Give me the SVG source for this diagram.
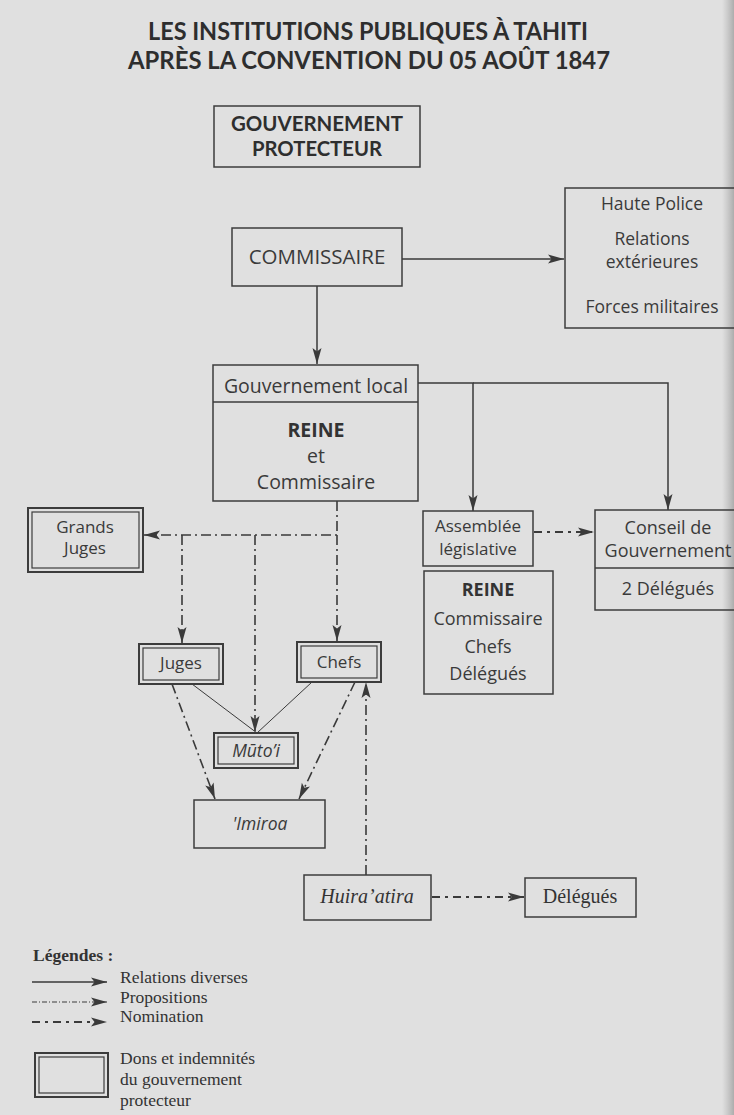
<svg xmlns="http://www.w3.org/2000/svg" width="734" height="1115" viewBox="0 0 734 1115">
<defs>
<marker id="ah" viewBox="0 0 16 10" refX="16" refY="5" markerWidth="16" markerHeight="10" markerUnits="userSpaceOnUse" orient="auto">
<path d="M0,0.5 L16,5 L0,9.5 L3.5,5 z" fill="#3a3a3a"/>
</marker>
<linearGradient id="edge" x1="0" y1="0" x2="1" y2="0">
<stop offset="0" stop-color="#9a9a9a" stop-opacity="0"/>
<stop offset="1" stop-color="#8a8a8a" stop-opacity="0.6"/>
</linearGradient>
</defs>
<style>
.bg{fill:#e0e0e0}
.box{fill:none;stroke:#3c3c3c;stroke-width:1.5}
.dbo{fill:none;stroke:#3c3c3c;stroke-width:2}
.dbi{fill:none;stroke:#3c3c3c;stroke-width:1.2}
.t{font-family:"Open Sans","Liberation Sans",sans-serif;fill:#3a3a3a;text-anchor:middle}
.h{font-family:Lato,"Open Sans",sans-serif;fill:#2e2e2e;text-anchor:middle;font-weight:bold}
.ti{font-family:"Open Sans","Liberation Sans",sans-serif;font-style:italic;fill:#3a3a3a;text-anchor:middle}
.s{font-family:"Liberation Serif",serif;fill:#333}
.b{font-weight:bold}
.solid{fill:none;stroke:#3a3a3a;stroke-width:1.5}
.thin{fill:none;stroke:#3a3a3a;stroke-width:1}
.dd{fill:none;stroke:#3a3a3a;stroke-width:1.6;stroke-dasharray:10 4 2 4}
.nom{fill:none;stroke:#3a3a3a;stroke-width:2;stroke-dasharray:8 5 3 5}
.prop{fill:none;stroke:#3a3a3a;stroke-width:1;stroke-dasharray:5 2 1 2}
</style>
<rect class="bg" x="0" y="0" width="734" height="1115"/>
<rect x="722" y="0" width="12" height="1115" fill="url(#edge)"/>

<g id="title">
<text class="h" font-size="24"><tspan x="368" y="40" textLength="440" lengthAdjust="spacingAndGlyphs">LES INSTITUTIONS PUBLIQUES À TAHITI</tspan><tspan x="369" y="69" textLength="482" lengthAdjust="spacingAndGlyphs">APRÈS LA CONVENTION DU 05 AOÛT 1847</tspan></text>
</g>

<g id="connectors">
<path class="solid" d="M402,259 H564" marker-end="url(#ah)"/>
<path class="solid" d="M317,286 V364" marker-end="url(#ah)"/>
<path class="solid" d="M418,383 H473 V511" marker-end="url(#ah)"/>
<path class="solid" d="M473,383 H668 V510" marker-end="url(#ah)"/>
<path class="dd" d="M337,501 V535 H144" marker-end="url(#ah)"/>
<path class="dd" d="M182,535 V643" marker-end="url(#ah)"/>
<path class="dd" d="M255,535 V732" marker-end="url(#ah)"/>
<path class="dd" d="M337,535 V641" marker-end="url(#ah)"/>
<path class="thin" d="M192,684 L257,733 L312,682"/>
<path class="dd" d="M172,684 L215,799" marker-end="url(#ah)"/>
<path class="dd" d="M355,682 L299,799" marker-end="url(#ah)"/>
<path class="dd" d="M366,875 V682" marker-end="url(#ah)"/>
<path class="nom" d="M534,532 H594" marker-end="url(#ah)"/>
<path class="nom" d="M432,897 H524" marker-end="url(#ah)"/>
</g>

<g id="gouv-protecteur">
<rect class="box" x="214" y="106" width="206" height="61"/>
<text class="h" font-size="20.5"><tspan x="317" y="131" textLength="172" lengthAdjust="spacingAndGlyphs">GOUVERNEMENT</tspan><tspan x="317" y="156" textLength="130" lengthAdjust="spacingAndGlyphs">PROTECTEUR</tspan></text>
</g>

<g id="commissaire">
<rect class="box" x="232" y="228" width="170" height="58"/>
<text class="t" x="317" y="264" font-size="20.5">COMMISSAIRE</text>
</g>

<g id="haute-police">
<rect class="box" x="565" y="188" width="180" height="140"/>
<text class="t" font-size="17.5"><tspan x="652" y="210">Haute Police</tspan><tspan x="652" y="245">Relations</tspan><tspan x="652" y="268">extérieures</tspan><tspan x="652" y="313">Forces militaires</tspan></text>
</g>

<g id="gouv-local">
<rect class="box" x="213" y="365" width="205" height="136"/>
<line class="box" x1="213" y1="402" x2="418" y2="402"/>
<text class="t" x="316" y="393" font-size="19.5">Gouvernement local</text>
<text class="t" font-size="19.5"><tspan x="316" y="437" font-weight="bold" fill="#333">REINE</tspan><tspan x="316" y="463">et</tspan><tspan x="316" y="489">Commissaire</tspan></text>
</g>

<g id="grands-juges">
<rect class="dbo" x="28" y="508" width="115" height="64"/>
<rect class="dbi" x="32" y="512" width="107" height="56"/>
<text class="t" font-size="17"><tspan x="85" y="533">Grands</tspan><tspan x="85" y="554">Juges</tspan></text>
</g>

<g id="assemblee">
<rect class="box" x="423" y="511" width="110" height="55"/>
<text class="t" font-size="17"><tspan x="478" y="532">Assemblée</tspan><tspan x="478" y="555">législative</tspan></text>
</g>

<g id="reine">
<rect class="box" x="424" y="571" width="129" height="123"/>
<text class="t" font-size="18"><tspan x="488" y="596" font-weight="bold" fill="#333">REINE</tspan><tspan x="488" y="625">Commissaire</tspan><tspan x="488" y="653">Chefs</tspan><tspan x="488" y="680">Délégués</tspan></text>
</g>

<g id="conseil">
<rect class="box" x="595" y="510" width="150" height="100"/>
<line class="box" x1="595" y1="568" x2="745" y2="568"/>
<text class="t" font-size="18"><tspan x="668" y="534">Conseil de</tspan><tspan x="668" y="557">Gouvernement</tspan></text>
<text class="t" x="668" y="595" font-size="18">2 Délégués</text>
</g>

<g id="juges">
<rect class="dbo" x="139" y="644" width="84" height="40"/>
<rect class="dbi" x="143" y="648" width="76" height="32"/>
<text class="t" x="181" y="669" font-size="17">Juges</text>
</g>

<g id="chefs">
<rect class="dbo" x="297" y="642" width="84" height="40"/>
<rect class="dbi" x="301" y="646" width="76" height="32"/>
<text class="t" x="339" y="668" font-size="17">Chefs</text>
</g>

<g id="mutoi">
<rect class="dbo" x="214" y="733" width="84" height="35"/>
<rect class="dbi" x="218" y="737" width="76" height="27"/>
<text class="ti" x="256" y="757" font-size="17.5">Mūto’i</text>
</g>

<g id="imiroa">
<rect class="box" x="194" y="800" width="131" height="48"/>
<text class="ti" x="260" y="830" font-size="17.5">'Imiroa</text>
</g>

<g id="huiraatira">
<rect class="box" x="304" y="875" width="127" height="45"/>
<text class="s" x="367" y="903" font-size="20" font-style="italic" text-anchor="middle">Huira’atira</text>
</g>

<g id="delegues">
<rect class="box" x="525" y="878" width="111" height="39"/>
<text class="s" x="580" y="903" font-size="20" text-anchor="middle">Délégués</text>
</g>

<g id="legend">
<text class="s b" x="33" y="961" font-size="17.5">Légendes :</text>
<path class="solid" d="M32,982 H107" marker-end="url(#ah)"/>
<path class="prop" d="M32,1002 H107" marker-end="url(#ah)"/>
<path class="nom" d="M32,1022 H107" marker-end="url(#ah)"/>
<text class="s" font-size="17.5"><tspan x="120" y="983">Relations diverses</tspan><tspan x="120" y="1003">Propositions</tspan><tspan x="120" y="1022">Nomination</tspan></text>
<rect class="dbo" x="35" y="1053" width="73" height="44"/>
<rect class="dbi" x="39" y="1057" width="65" height="36"/>
<text class="s" font-size="17.5"><tspan x="120" y="1064">Dons et indemnités</tspan><tspan x="120" y="1085">du gouvernement</tspan><tspan x="120" y="1106">protecteur</tspan></text>
</g>
</svg>
